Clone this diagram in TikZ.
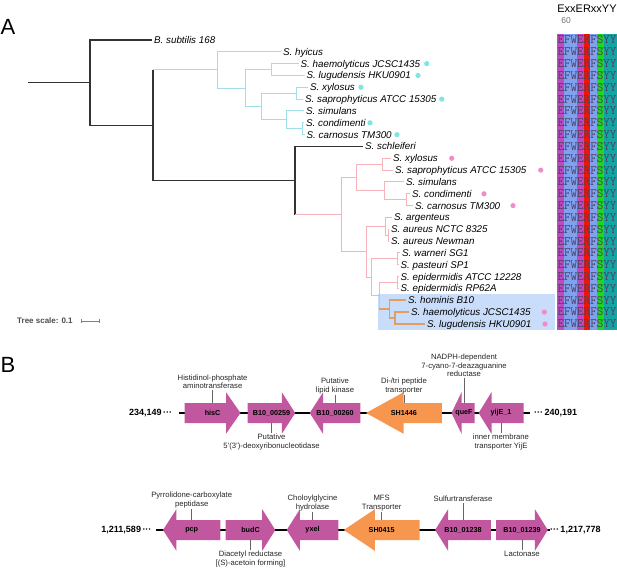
\documentclass[tikz,border=0pt]{standalone}
\usepackage{fontspec}
\setmainfont{Liberation Sans}
\usepackage{xcolor}
\usetikzlibrary{positioning}

\definecolor{brblack}{RGB}{51,51,51}
\definecolor{brcyan}{RGB}{160,222,234}
\definecolor{brpink}{RGB}{245,179,186}
\definecolor{brorange}{RGB}{221,160,96}
\definecolor{dotcyan}{RGB}{126,230,224}
\definecolor{dotpink}{RGB}{240,140,200}
\definecolor{boxblue}{RGB}{201,220,249}
\definecolor{colE}{RGB}{192,72,192}
\definecolor{colF}{RGB}{128,160,240}
\definecolor{colR}{RGB}{240,21,5}
\definecolor{colS}{RGB}{30,215,30}
\definecolor{colY}{RGB}{21,164,164}
\definecolor{alntext}{RGB}{75,65,95}
\definecolor{genemag}{RGB}{192,87,159}
\definecolor{geneorg}{RGB}{247,150,79}

\begin{document}
\begin{tikzpicture}[x=1pt, y=-1pt,
    branch/.style={line width=1.2pt, brblack},
    cyanbr/.style={line width=1pt, brcyan},
    pinkbr/.style={line width=1pt, brpink},
    orangebr/.style={line width=1.6pt, brorange},
    leaf/.style={anchor=west, inner sep=2pt, text height=6.9pt, text depth=0pt,
        font=\fontsize{9.8}{10}\selectfont\itshape},
    aln/.style={inner sep=0pt, text height=7.8pt, text depth=0pt, text=alntext,
        font=\fontsize{12.7}{12.7}\selectfont\ttfamily},
    panel/.style={inner sep=0pt, font=\fontsize{22}{22}\selectfont},
    genelbl/.style={inner sep=0pt, minimum height=20pt, font=\fontsize{7.2}{8}\selectfont\bfseries},
    annot/.style={inner sep=1pt, align=center, text=black!85,
        font=\fontsize{7.7}{8.5}\selectfont},
    numlbl/.style={inner sep=0pt, font=\fontsize{9}{9}\selectfont\bfseries},
    tick/.style={line width=0.5pt, black!60},
    backbone/.style={line width=1.8pt, black}
]
    \useasboundingbox (0,0) rectangle (617,567);

    % Panel labels
    \node[panel] (labA) at (8,27) {A};
    \node[panel] (labB) at (8,365) {B};

    % Highlight box
    \fill[boxblue] (378,294.4) rectangle (555,330);

    % Tree nodes
    \coordinate (root) at (28,82.63);
    \coordinate (n0) at (90,82.63);
    \coordinate (n1) at (153,125.26);
    \coordinate (s0) at (295,180.57);
    \coordinate (c0) at (217.3,69.94);
    \coordinate (c1) at (245,88.06);
    \coordinate (c2) at (271.7,69.58);
    \coordinate (c3) at (261.7,106.54);
    \coordinate (c4) at (296.7,93.24);
    \coordinate (c5) at (286.7,119.85);
    \coordinate (c6) at (302.7,128.73);
    \coordinate (p0) at (341.7,214.68);
    \coordinate (p1) at (356.7,177.52);
    \coordinate (p2) at (366,251.83);
    \coordinate (p3) at (382,164.22);
    \coordinate (p4) at (384,190.83);
    \coordinate (p5) at (406.7,199.71);
    \coordinate (p6) at (385.5,226.32);
    \coordinate (p7) at (371.7,277.34);
    \coordinate (p8) at (388,235.20);
    \coordinate (p9) at (397.5,258.86);
    \coordinate (p10) at (379,295.83);
    \coordinate (p11) at (397.8,282.52);
    \coordinate (o0) at (389.5,309.13);
    \coordinate (o1) at (395,318.00);

    % Leaves
    \node[leaf] (l0) at (152,40.00) {B. subtilis 168};
    \node[leaf] (l1) at (281,51.83) {S. hyicus};
    \node[leaf] (l2) at (298.5,63.66) {S. haemolyticus JCSC1435};
    \node[leaf] (l3) at (304.5,75.49) {S. lugudensis HKU0901};
    \node[leaf] (l4) at (308,87.32) {S. xylosus};
    \node[leaf] (l5) at (303,99.15) {S. saprophyticus ATCC 15305};
    \node[leaf] (l6) at (304,110.98) {S. simulans};
    \node[leaf] (l7) at (304,122.81) {S. condimenti};
    \node[leaf] (l8) at (304.5,134.64) {S. carnosus TM300};
    \node[leaf] (l9) at (363,146.47) {S. schleiferi};
    \node[leaf] (l10) at (391,158.30) {S. xylosus};
    \node[leaf] (l11) at (393,170.13) {S. saprophyticus ATCC 15305};
    \node[leaf] (l12) at (404,181.96) {S. simulans};
    \node[leaf] (l13) at (410,193.79) {S. condimenti};
    \node[leaf] (l14) at (413,205.62) {S. carnosus TM300};
    \node[leaf] (l15) at (392,217.45) {S. argenteus};
    \node[leaf] (l16) at (389,229.28) {S. aureus NCTC 8325};
    \node[leaf] (l17) at (389,241.11) {S. aureus Newman};
    \node[leaf] (l18) at (400,252.94) {S. warneri SG1};
    \node[leaf] (l19) at (398.5,264.77) {S. pasteuri SP1};
    \node[leaf] (l20) at (398.5,276.60) {S. epidermidis ATCC 12228};
    \node[leaf] (l21) at (398.5,288.43) {S. epidermidis RP62A};
    \node[leaf] (l22) at (406,300.26) {S. hominis B10};
    \node[leaf] (l23) at (409,312.09) {S. haemolyticus JCSC1435};
    \node[leaf] (l24) at (425,323.92) {S. lugudensis HKU0901};

    % Backbone of the tree
    \draw[branch] (root) -- (n0);
    \draw[branch] (n0) |- (l0.west) (n0) |- (n1);
    \draw[branch] (n1 |- c0) -- (n1 |- s0) -- (s0);
    \draw[cyanbr] (n1 |- c0) -- (c0);
    \draw[branch] (s0) |- (l9.west) (s0 |- p0) -- (s0 |- l9.west);
    \draw[pinkbr] (s0 |- p0) -- (p0);

    % Cyan clade
    \draw[cyanbr] (c0) |- (l1.west) (c0) |- (c1);
    \draw[cyanbr] (c1) |- (c2) (c1) |- (c3);
    \draw[cyanbr] (c2) |- (l2.west) (c2) |- (l3.west);
    \draw[cyanbr] (c3) |- (c4) (c3) |- (c5);
    \draw[cyanbr] (c4) |- (l4.west) (c4) |- (l5.west);
    \draw[cyanbr] (c5) |- (l6.west) (c5) |- (c6);
    \draw[cyanbr] (c6) |- (l7.west) (c6) |- (l8.west);

    % Pink clade
    \draw[pinkbr] (p0) |- (p1) (p0) |- (p2);
    \draw[pinkbr] (p1) |- (p3) (p1) |- (p4);
    \draw[pinkbr] (p3) |- (l10.west) (p3) |- (l11.west);
    \draw[pinkbr] (p4) |- (l12.west) (p4) |- (p5);
    \draw[pinkbr] (p5) |- (l13.west) (p5) |- (l14.west);
    \draw[pinkbr] (p2) |- (p6) (p2) |- (p7);
    \draw[pinkbr] (p6) |- (l15.west) (p6) |- (p8);
    \draw[pinkbr] (p8) |- (l16.west) (p8) |- (l17.west);
    \draw[pinkbr] (p7) |- (p9) (p7) |- (p10);
    \draw[pinkbr] (p9) |- (l18.west) (p9) |- (l19.west);
    \draw[pinkbr] (p10) |- (p11) (p10) -- (p10 |- o0);
    \draw[pinkbr] (p11) |- (l20.west) (p11) |- (l21.west);

    % Orange clade
    \draw[orangebr] (p10 |- o0) -- (o0);
    \draw[orangebr] (o0) |- (l22.west) (o0) |- (o1);
    \draw[orangebr] (o1) |- (l23.west) (o1) |- (l24.west);

    % Dots
    \fill[dotcyan] (426.7,63.66) circle (2.6pt);
    \fill[dotcyan] (418,75.49) circle (2.6pt);
    \fill[dotcyan] (361,87.32) circle (2.6pt);
    \fill[dotcyan] (441.7,99.15) circle (2.6pt);
    \fill[dotcyan] (370,122.81) circle (2.6pt);
    \fill[dotcyan] (397,134.64) circle (2.6pt);
    \fill[dotpink] (451.7,158.30) circle (2.6pt);
    \fill[dotpink] (540.7,170.13) circle (2.6pt);
    \fill[dotpink] (484,193.79) circle (2.6pt);
    \fill[dotpink] (513,205.62) circle (2.6pt);
    \fill[dotpink] (544.3,312.09) circle (2.6pt);
    \fill[dotpink] (545,323.92) circle (2.6pt);

    % Tree scale
    \node[anchor=west, inner sep=0pt, text=black!70, font=\fontsize{8}{9}\selectfont\bfseries]
        (tscale) at (17,321) {Tree scale: 0.1};
    \coordinate (sb0) at (81,321);
    \coordinate (sb1) at (99,321);
    \draw[line width=0.6pt, black!50] (sb0) -- (sb1);
    \draw[line width=0.6pt, black!50] ([yshift=-2pt]sb0) -- ([yshift=2pt]sb0);
    \draw[line width=0.6pt, black!50] ([yshift=-2pt]sb1) -- ([yshift=2pt]sb1);

    % Alignment
    \node[inner sep=0pt, font=\fontsize{11}{11}\selectfont] (motif) at (587,9) {ExxERxxYY};
    \node[inner sep=0pt, text=black!55, font=\fontsize{8.5}{9}\selectfont] (pos60) at (566,21) {60};
    \fill[colE] (557,34.1) rectangle (563.67,329.8);
    \fill[colF] (563.67,34.1) rectangle (577,329.8);
    \fill[colE] (577,34.1) rectangle (583.67,329.8);
    \fill[colR] (583.67,34.1) rectangle (590.33,329.8);
    \fill[colF] (590.33,34.1) rectangle (597,329.8);
    \fill[colS] (597,34.1) rectangle (603.67,329.8);
    \fill[colY] (603.67,34.1) rectangle (617,329.8);
    \node[aln] (a0) at (587,40.00) {EFWERFSYY};
    \node[aln] (a1) at (587,51.83) {EFWERFSYY};
    \node[aln] (a2) at (587,63.66) {EFWERFSYY};
    \node[aln] (a3) at (587,75.49) {EFWERFSYY};
    \node[aln] (a4) at (587,87.32) {EFWERFSYY};
    \node[aln] (a5) at (587,99.15) {EFWERFSYY};
    \node[aln] (a6) at (587,110.98) {EFWERFSYY};
    \node[aln] (a7) at (587,122.81) {EFWERFSYY};
    \node[aln] (a8) at (587,134.64) {EFWERFSYY};
    \node[aln] (a9) at (587,146.47) {EFWERFSYY};
    \node[aln] (a10) at (587,158.30) {EFWERFSYY};
    \node[aln] (a11) at (587,170.13) {EFWERFSYY};
    \node[aln] (a12) at (587,181.96) {EFWERFSYY};
    \node[aln] (a13) at (587,193.79) {EFWERFSYY};
    \node[aln] (a14) at (587,205.62) {EFWERFSYY};
    \node[aln] (a15) at (587,217.45) {EFWERFSYY};
    \node[aln] (a16) at (587,229.28) {EFWERFSYY};
    \node[aln] (a17) at (587,241.11) {EFWERFSYY};
    \node[aln] (a18) at (587,252.94) {EFWERFSYY};
    \node[aln] (a19) at (587,264.77) {EFWERFSYY};
    \node[aln] (a20) at (587,276.60) {EFWERFSYY};
    \node[aln] (a21) at (587,288.43) {EFWERFSYY};
    \node[aln] (a22) at (587,300.26) {EFWERFSYY};
    \node[aln] (a23) at (587,312.09) {EFWERFSYY};
    \node[aln] (a24) at (587,323.92) {EFWERFSYY};

    % Gene cluster 1
    \node[numlbl, anchor=east] (r1l) at (172.3,413) {234,149\,···};
    \node[numlbl, anchor=west] (r1r) at (533.9,413) {···\,240,191};
    \draw[backbone] ([xshift=7pt]r1l.east) -- ([xshift=-4pt]r1r.west);
    \fill[genemag] (184.7,403) -- (226,403) -- (226,392.2) -- (240.5,413) -- (226,433.8) -- (226,423) -- (184.7,423) -- cycle;
    \fill[genemag] (247.7,403) -- (281.8,403) -- (281.8,392.2) -- (295.2,413) -- (281.8,433.8) -- (281.8,423) -- (247.7,423) -- cycle;
    \fill[genemag] (360.3,403) -- (323.1,403) -- (323.1,392.2) -- (309.7,413) -- (323.1,433.8) -- (323.1,423) -- (360.3,423) -- cycle;
    \fill[geneorg] (441.9,403) -- (403.7,403) -- (403.7,392.2) -- (366,413) -- (403.7,433.8) -- (403.7,423) -- (441.9,423) -- cycle;
    \fill[genemag] (474.5,403) -- (461.5,403) -- (461.5,392.2) -- (451.5,413) -- (461.5,433.8) -- (461.5,423) -- (474.5,423) -- cycle;
    \fill[genemag] (523.5,403) -- (491.5,403) -- (491.5,392.2) -- (478.6,413) -- (491.5,433.8) -- (491.5,423) -- (523.5,423) -- cycle;
    \node[genelbl] (hisC) at (212.6,413) {hisC};
    \node[genelbl] (g259) at (271.5,413) {B10\_00259};
    \node[genelbl] (g260) at (335,413) {B10\_00260};
    \node[genelbl] (sh1446) at (403.9,413) {SH1446};
    \node[genelbl] (queF) at (464,413) {queF};
    \node[genelbl] (yijE) at (501,413) {yijE\_1};
    \node[annot, above=13pt of hisC] (hisCa) {Histidinol-phosphate\\aminotransferase};
    \node[annot, above=8pt of g260] (g260a) {Putative\\lipid kinase};
    \node[annot, above=8pt of sh1446] (sh1446a) {Di-/tri peptide\\transporter};
    \node[annot, above=25pt of queF] (queFa) {NADPH-dependent\\7-cyano-7-deazaguanine\\reductase};
    \node[annot, below=10pt of g259] (g259b) {Putative\\5'(3')-deoxyribonucleotidase};
    \node[annot, below=10pt of yijE] (yijEb) {inner membrane\\transporter YijE};
    \draw[tick] (hisCa) -- (hisC);
    \draw[tick] (g260a) -- (g260);
    \draw[tick] (sh1446a) -- (sh1446);
    \draw[tick] (queFa) -- (queF);
    \draw[tick] (g259b) -- (g259);
    \draw[tick] (yijEb) -- (yijE);

    % Gene cluster 2
    \node[numlbl, anchor=east] (r2l) at (151.7,530) {1,211,589\,···};
    \node[numlbl, anchor=west] (r2r) at (549.8,530) {···\,1,217,778};
    \draw[backbone] ([xshift=4pt]r2l.east) -- (r2r.west);
    \fill[genemag] (220.3,520) -- (176.4,520) -- (176.4,509.2) -- (163,530) -- (176.4,550.8) -- (176.4,540) -- (220.3,540) -- cycle;
    \fill[genemag] (225.7,520) -- (262.2,520) -- (262.2,509.2) -- (275.3,530) -- (262.2,550.8) -- (262.2,540) -- (225.7,540) -- cycle;
    \fill[genemag] (338.3,520) -- (299.9,520) -- (299.9,509.2) -- (286.7,530) -- (299.9,550.8) -- (299.9,540) -- (338.3,540) -- cycle;
    \fill[geneorg] (419.6,520) -- (374.8,520) -- (374.8,509.2) -- (343.8,530) -- (374.8,550.8) -- (374.8,540) -- (419.6,540) -- cycle;
    \fill[genemag] (490.8,520) -- (448.1,520) -- (448.1,509.2) -- (435.1,530) -- (448.1,550.8) -- (448.1,540) -- (490.8,540) -- cycle;
    \fill[genemag] (496.2,520) -- (534.9,520) -- (534.9,509.2) -- (547.8,530) -- (534.9,550.8) -- (534.9,540) -- (496.2,540) -- cycle;
    \node[genelbl] (pcp) at (191.7,530) {pcp};
    \node[genelbl] (budC) at (250.5,530) {budC};
    \node[genelbl] (yxel) at (312.5,530) {yxel};
    \node[genelbl] (sh0415) at (381.7,530) {SH0415};
    \node[genelbl] (g1238) at (463,530) {B10\_01238};
    \node[genelbl] (g1239) at (522,530) {B10\_01239};
    \node[annot, above=11pt of pcp] (pcpa) {Pyrrolidone-carboxylate\\peptidase};
    \node[annot, above=8pt of yxel] (yxela) {Choloylglycine\\hydrolase};
    \node[annot, above=8pt of sh0415] (sh0415a) {MFS\\Transporter};
    \node[annot, above=17pt of g1238] (g1238a) {Sulfurtransferase};
    \node[annot, below=10pt of budC] (budCb) {Diacetyl reductase\\{}[(S)-acetoin forming]};
    \node[annot, below=10pt of g1239] (g1239b) {Lactonase};
    \draw[tick] (pcpa) -- (pcp);
    \draw[tick] (yxela) -- (yxel);
    \draw[tick] (sh0415a) -- (sh0415);
    \draw[tick] (g1238a) -- (g1238);
    \draw[tick] (budCb) -- (budC);
    \draw[tick] (g1239b) -- (g1239);
\end{tikzpicture}
\end{document}
